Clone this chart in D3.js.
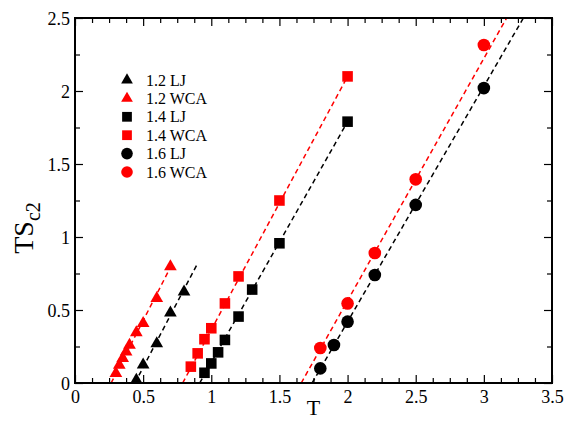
<!DOCTYPE html>
<html>
<head>
<meta charset="utf-8">
<script src="https://cdn.jsdelivr.net/npm/d3@7/dist/d3.min.js"></script>
<style>
  html, body { margin: 0; padding: 0; background: #fff; }
  svg { display: block; font-family: "Liberation Serif", "DejaVu Serif", serif; }
</style>
</head>
<body>
<svg id="chart" width="565" height="421"></svg>
<script>
// Temperature T and TS_c2 for each density / potential
const T12LJ = [0.45, 0.5, 0.6, 0.7, 0.8];
const S12LJ = [0.02, 0.125, 0.27, 0.48, 0.625];
const T12WCA = [0.3, 0.325, 0.35, 0.375, 0.4, 0.45, 0.5, 0.6, 0.7];
const S12WCA = [0.066, 0.123, 0.169, 0.214, 0.26, 0.345, 0.409, 0.58, 0.797];
const T14LJ = [0.95, 1.0, 1.05, 1.1, 1.2, 1.3, 1.5, 2.0];
const S14LJ = [0.07, 0.134, 0.21, 0.295, 0.455, 0.64, 0.957, 1.79];
const T14WCA = [0.85, 0.9, 0.95, 1.0, 1.1, 1.2, 1.5, 2.0];
const S14WCA = [0.112, 0.203, 0.30, 0.375, 0.545, 0.73, 1.25, 2.10];
const T16LJ = [1.8, 1.9, 2.0, 2.2, 2.5, 3.0];
const S16LJ = [0.10, 0.26, 0.42, 0.74, 1.22, 2.02];
const T16WCA = [1.8, 2.0, 2.2, 2.5, 3.0];
const S16WCA = [0.24, 0.545, 0.89, 1.395, 2.315];

// Linear fits (end points, T and TS_c2)
const fit12LJ = { T: [0.44, 0.9], S: [0, 0.82] };
const fit12WCA = { T: [0.265, 0.71], S: [0, 0.81] };
const fit14LJ = { T: [0.915, 2.0], S: [0, 1.79] };
const fit14WCA = { T: [0.79, 2.0], S: [0, 2.1] };
const fit16LJ = { T: [1.74, 3.29], S: [0, 2.5] };
const fit16WCA = { T: [1.66, 3.167], S: [0, 2.5] };

const seriesLabels = ["1.2 LJ", "1.2 WCA", "1.4 LJ", "1.4 WCA", "1.6 LJ", "1.6 WCA"];
const xMajorTicks = [0, 0.5, 1, 1.5, 2, 2.5, 3, 3.5];
const yMajorTicks = [0, 0.5, 1, 1.5, 2, 2.5];

const svg = d3.select("#chart");
const margin = { left: 75, right: 13, top: 18, bottom: 38 };
const W = 565, H = 421;
const x = d3.scaleLinear().domain([0, 3.5]).range([margin.left, W - margin.right]);
const y = d3.scaleLinear().domain([0, 2.5]).range([H - margin.bottom, margin.top]);

const xMinor = d3.range(0, 3.5001, 0.125).filter(v => Math.abs(v * 2 - Math.round(v * 2)) > 1e-6);
const yMinor = d3.range(0, 2.5001, 0.25).filter(v => Math.abs(v * 2 - Math.round(v * 2)) > 1e-6);

const series = [
  { T: T12LJ, S: S12LJ, fit: fit12LJ, color: "#000", shape: d3.symbolTriangle, size: 70 },
  { T: T12WCA, S: S12WCA, fit: fit12WCA, color: "#ff0000", shape: d3.symbolTriangle, size: 70 },
  { T: T14LJ, S: S14LJ, fit: fit14LJ, color: "#000", shape: d3.symbolSquare, size: 112 },
  { T: T14WCA, S: S14WCA, fit: fit14WCA, color: "#ff0000", shape: d3.symbolSquare, size: 112 },
  { T: T16LJ, S: S16LJ, fit: fit16LJ, color: "#000", shape: d3.symbolCircle, size: 125 },
  { T: T16WCA, S: S16WCA, fit: fit16WCA, color: "#ff0000", shape: d3.symbolCircle, size: 125 }
];
series.forEach((s, i) => s.label = seriesLabels[i]);

// clip
svg.append("defs").append("clipPath").attr("id", "plotClip")
  .append("rect")
  .attr("x", x(0)).attr("y", y(2.5))
  .attr("width", x(3.5) - x(0)).attr("height", y(0) - y(2.5));

// dashed fit lines
const line = d3.line().x(d => x(d[0])).y(d => y(d[1]));
const fits = svg.append("g").attr("clip-path", "url(#plotClip)");
series.forEach(s => {
  fits.append("path")
    .attr("d", line(d3.zip(s.fit.T, s.fit.S)))
    .attr("fill", "none")
    .attr("stroke", s.color)
    .attr("stroke-width", 1.5)
    .attr("stroke-dasharray", "5,3.5");
});

// markers
const marks = svg.append("g");
series.forEach(s => {
  marks.selectAll(null)
    .data(d3.zip(s.T, s.S))
    .join("path")
    .attr("transform", d => `translate(${x(d[0])},${y(d[1])})`)
    .attr("d", d3.symbol().type(s.shape).size(s.size))
    .attr("fill", s.color);
});

// axes with inward ticks on all four sides
function axes() {
  const g = svg.append("g");
  const fs = 18;
  const bottom = g.append("g").attr("transform", `translate(0,${y(0)})`)
    .call(d3.axisBottom(x).tickValues(xMajorTicks).tickSize(-8).tickPadding(5).tickFormat(d3.format("~g")));
  g.append("g").attr("transform", `translate(0,${y(0)})`)
    .call(d3.axisBottom(x).tickValues(xMinor).tickSize(-5).tickFormat(""));
  g.append("g").attr("transform", `translate(0,${y(2.5)})`)
    .call(d3.axisTop(x).tickValues(xMajorTicks).tickSize(-8).tickFormat(""));
  g.append("g").attr("transform", `translate(0,${y(2.5)})`)
    .call(d3.axisTop(x).tickValues(xMinor).tickSize(-5).tickFormat(""));
  const left = g.append("g").attr("transform", `translate(${x(0)},0)`)
    .call(d3.axisLeft(y).tickValues(yMajorTicks).tickSize(-8).tickPadding(5).tickFormat(d3.format("~g")));
  g.append("g").attr("transform", `translate(${x(0)},0)`)
    .call(d3.axisLeft(y).tickValues(yMinor).tickSize(-5).tickFormat(""));
  g.append("g").attr("transform", `translate(${x(3.5)},0)`)
    .call(d3.axisRight(y).tickValues(yMajorTicks).tickSize(-8).tickFormat(""));
  g.append("g").attr("transform", `translate(${x(3.5)},0)`)
    .call(d3.axisRight(y).tickValues(yMinor).tickSize(-5).tickFormat(""));
  g.selectAll(".domain").remove();
  g.selectAll(".tick line").attr("stroke", "#000").attr("stroke-width", 1.2);
  g.selectAll(".tick text")
    .attr("font-family", "Liberation Serif, serif")
    .attr("font-size", fs).attr("fill", "#000");
  bottom.selectAll(".tick text").attr("dy", "0.85em");
  left.selectAll(".tick text").attr("dy", "0.35em");
  // frame
  g.append("rect")
    .attr("x", x(0)).attr("y", y(2.5))
    .attr("width", x(3.5) - x(0)).attr("height", y(0) - y(2.5))
    .attr("fill", "none").attr("stroke", "#000").attr("stroke-width", 2);
}
axes();

// axis titles
svg.append("text")
  .attr("x", (x(0) + x(3.5)) / 2).attr("y", 415)
  .attr("text-anchor", "middle")
  .attr("font-size", 22)
  .text("T");

const yt = svg.append("text")
  .attr("transform", `translate(33,228) rotate(-90)`)
  .attr("text-anchor", "middle")
  .attr("font-size", 28);
yt.append("tspan").text("TS");
yt.append("tspan").attr("font-size", 20).attr("dy", 7).text("c2");

// legend
const legend = svg.append("g");
series.forEach((s, i) => {
  const ly = 80 + i * 18.4;
  legend.append("path")
    .attr("transform", `translate(127,${ly})`)
    .attr("d", d3.symbol().type(s.shape).size(s.size * 0.85))
    .attr("fill", s.color);
  legend.append("text")
    .attr("x", 146).attr("y", ly).attr("dy", "0.35em")
    .attr("font-size", 16)
    .text(s.label);
});
</script>
</body>
</html>
